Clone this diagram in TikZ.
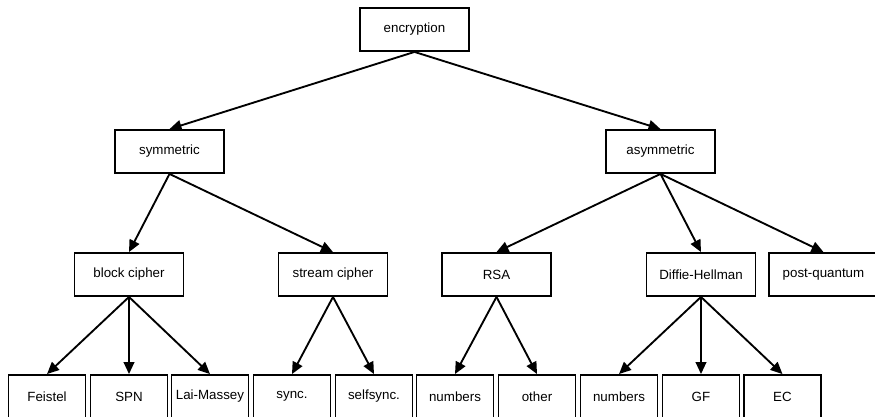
\documentclass[tikz,border=0pt]{standalone}
\usepackage{fontspec}
\setmainfont{Liberation Sans}
\usetikzlibrary{arrows.meta}

\begin{document}
\begin{tikzpicture}[x=.75pt,y=-.75pt,
  box/.style={draw,line width=1.4pt,minimum width=81.75pt,minimum height=32.25pt,inner sep=0pt},
  leaf/.style={box,minimum width=57.75pt},
  edge/.style={-{Triangle[length=9pt,width=8pt]},line width=1.4pt}]
\useasboundingbox (0,0) rectangle (875,417);
% levels
\node[box] (enc) at (414.5,29.5) {encryption};
\node[box] (sym) at (169.5,151.5) {symmetric};
\node[box] (asym) at (660.5,151.5) {asymmetric};
\node[box] (block) at (129,274.5) {block cipher};
\node[box] (stream) at (333,274.5) {stream cipher};
\node[box] (rsa) at (496.5,274.5) {RSA};
\node[box] (dh) at (701,274.5) {Diffie-Hellman};
\node[box] (pq) at (823.5,274.5) {post-quantum};
% leaves
\node[leaf] (feistel) at (47,396.5) {Feistel};
\node[leaf] (spn) at (129,396.5) {SPN};
\node[leaf] (lai) at (210,396.5) {Lai-Massey};
\node[leaf] (sync) at (292,396.5) {sync.};
\node[leaf] (selfsync) at (374,396.5) {selfsync.};
\node[leaf] (rsanum) at (455,396.5) {numbers};
\node[leaf] (rsaother) at (537,396.5) {other};
\node[leaf] (dhnum) at (619,396.5) {numbers};
\node[leaf] (gf) at (701,396.5) {GF};
\node[leaf] (ec) at (782.5,396.5) {EC};
% edges
\draw[edge] (enc.south) -- (sym.north);
\draw[edge] (enc.south) -- (asym.north);
\draw[edge] (sym.south) -- (block.north);
\draw[edge] (sym.south) -- (stream.north);
\draw[edge] (asym.south) -- (rsa.north);
\draw[edge] (asym.south) -- (dh.north);
\draw[edge] (asym.south) -- (pq.north);
\draw[edge] (block.south) -- (feistel.north);
\draw[edge] (block.south) -- (spn.north);
\draw[edge] (block.south) -- (lai.north);
\draw[edge] (stream.south) -- (sync.north);
\draw[edge] (stream.south) -- (selfsync.north);
\draw[edge] (rsa.south) -- (rsanum.north);
\draw[edge] (rsa.south) -- (rsaother.north);
\draw[edge] (dh.south) -- (dhnum.north);
\draw[edge] (dh.south) -- (gf.north);
\draw[edge] (dh.south) -- (ec.north);
\end{tikzpicture}
\end{document}
